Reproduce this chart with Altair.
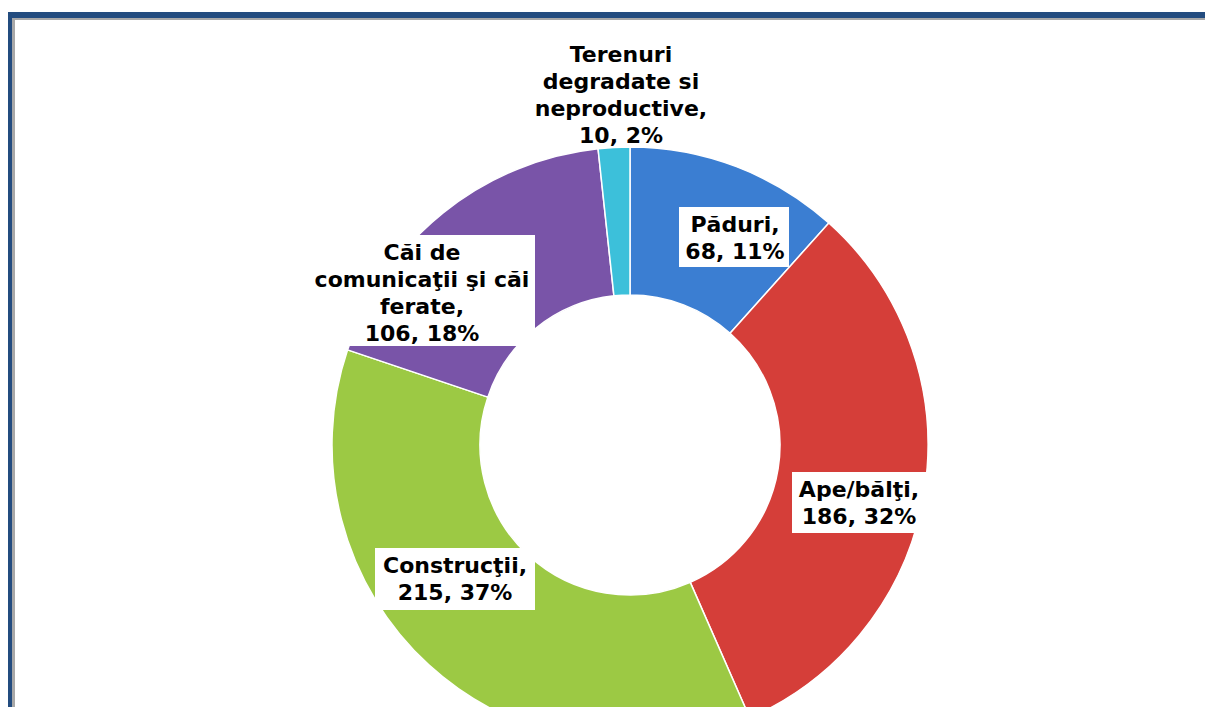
import altair as alt
import pandas as pd

# ---- data ----
categories = ["Păduri", "Ape/bălţi", "Construcţii",
              "Căi de comunicaţii şi căi ferate", "Terenuri degradate si neproductive"]
values = [68, 186, 215, 106, 10]
percents = [11, 32, 37, 18, 2]
label_heads = ["Păduri,", "Ape/bălţi,", "Construcţii,",
               "Căi de\ncomunicaţii şi căi\nferate,", "Terenuri\ndegradate si\nneproductive,"]
colors = ["#3b7ed2", "#d53e39", "#9cc944", "#7954a8", "#3cc0da"]

df = pd.DataFrame({
    "cat": categories,
    "value": values,
    "order": list(range(len(categories))),
    "label": [f"{h}\n{v}, {p}%" for h, v, p in zip(label_heads, values, percents)],
})

W, H = 1197, 699
CX, CY = 622, 437
R_OUT, R_IN = 298, 150

color_scale = alt.Scale(domain=categories, range=colors)

base = alt.Chart(df)

donut = base.mark_arc(outerRadius=R_OUT, innerRadius=R_IN, stroke="white",
                      strokeWidth=1.5).encode(
    theta=alt.Theta("value:Q", stack=True),
    order=alt.Order("order:Q"),
    color=alt.Color("cat:N", scale=color_scale, legend=None),
    x=alt.value(CX), y=alt.value(CY),
)

# frame
one = pd.DataFrame({"k": [0]})
frame = alt.layer(
    alt.Chart(one).mark_rect(color="#234c7f").encode(
        x=alt.value(0), x2=alt.value(W), y=alt.value(4), y2=alt.value(10)),
    alt.Chart(one).mark_rect(color="#a8a8a8").encode(
        x=alt.value(4), x2=alt.value(W), y=alt.value(10), y2=alt.value(12)),
    alt.Chart(one).mark_rect(color="#234c7f").encode(
        x=alt.value(0), x2=alt.value(4), y=alt.value(4), y2=alt.value(H)),
    alt.Chart(one).mark_rect(color="#a8a8a8").encode(
        x=alt.value(4), x2=alt.value(7), y=alt.value(10), y2=alt.value(H)),
)

# label layout: (text x, first baseline y, box or None)
layout = {
    "Păduri": (727, 224, (671, 199, 781, 259)),
    "Ape/bălţi": (851, 489, (784, 464, 918, 525)),
    "Construcţii": (447, 565, (367, 540, 527, 602)),
    "Căi de comunicaţii şi căi ferate": (414, 252, (301, 227, 527, 338)),
    "Terenuri degradate si neproductive": (613, 54, None),
}

layers = [frame, donut]
for cat in categories:
    tx, ty, box = layout[cat]
    sub = base.transform_filter(alt.datum.cat == cat)
    if box is not None:
        layers.append(sub.mark_rect(color="white").encode(
            x=alt.value(box[0]), x2=alt.value(box[2]),
            y=alt.value(box[1]), y2=alt.value(box[3])))
    layers.append(sub.mark_text(
        lineBreak="\n", font="DejaVu Sans", fontWeight="bold", fontSize=22,
        lineHeight=27, align="center", baseline="alphabetic", color="black"
    ).encode(text="label:N", x=alt.value(tx), y=alt.value(ty)))

chart = alt.layer(*layers).properties(
    width=W, height=H, autosize="none", padding=0,
    background="white",
).configure_view(stroke=None)

chart.save("out.html", embed_options={"renderer": "svg", "actions": False})
